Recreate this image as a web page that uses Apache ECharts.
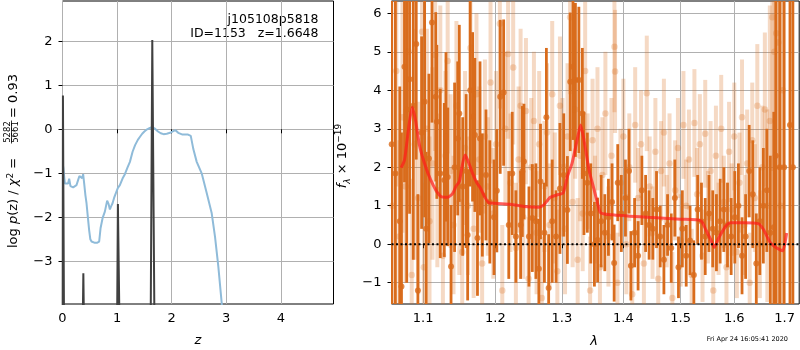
<!DOCTYPE html>
<html>
<head>
<meta charset="utf-8">
<script src="https://cdn.jsdelivr.net/npm/echarts@6/dist/echarts.min.js"></script>
<style>
  html, body { margin: 0; padding: 0; background: #fff; }
  #chart { width: 800px; height: 350px; }
</style>
</head>
<body>
<div id="chart"></div>
<script>
// ---- left panel: log p(z) ----
const zTicks = [0, 1, 2, 3, 4]
const logpTicks = [-3, -2, -1, 0, 1, 2]
const zCurve = [
  [0.012, -0.84], [0.024, -0.84], [0.043, -1.23], [0.07, -1.25], [0.103, -1.23], [0.122, -1.12],
  [0.134, -1.11], [0.146, -1.29], [0.17, -1.31], [0.195, -1.32], [0.226, -1.29], [0.256, -1.27],
  [0.287, -1.15], [0.31, -1.06], [0.33, -1.04], [0.345, -1.1], [0.36, -1.11], [0.378, -1.02],
  [0.397, -1.23], [0.42, -1.5], [0.44, -1.68], [0.465, -2.0], [0.488, -2.29], [0.51, -2.5],
  [0.532, -2.55], [0.56, -2.59], [0.593, -2.58], [0.63, -2.58], [0.672, -2.55], [0.697, -2.25],
  [0.734, -2.02], [0.776, -1.87], [0.818, -1.62], [0.845, -1.7], [0.868, -1.82], [0.89, -1.75],
  [0.917, -1.68], [0.945, -1.56], [0.978, -1.45], [1.015, -1.33], [1.051, -1.27], [1.1, -1.12],
  [1.143, -1.02], [1.19, -0.87], [1.235, -0.74], [1.284, -0.51], [1.33, -0.36], [1.38, -0.24],
  [1.42, -0.17], [1.46, -0.1], [1.5, -0.05], [1.55, 0.0], [1.6, 0.03], [1.64, 0.045],
  [1.69, 0.02], [1.75, -0.05], [1.8, -0.09], [1.85, -0.11], [1.91, -0.1], [1.97, -0.08],
  [2.03, -0.04], [2.07, -0.02], [2.12, -0.08], [2.2, -0.12], [2.3, -0.12], [2.35, -0.15],
  [2.397, -0.45], [2.459, -0.74], [2.55, -1.0], [2.642, -1.45], [2.734, -1.91], [2.794, -2.44],
  [2.855, -3.12], [2.917, -3.95], [2.95, -4.4]
]
const zSpikes = [
  [[0.003, -4.5], [0.008, 0.77], [0.02, 0.76], [0.028, -4.5]],
  [[0.37, -4.5], [0.382, -3.27], [0.394, -4.5]],
  [[1.0, -4.5], [1.015, -1.70], [1.03, -1.72], [1.045, -4.5]],
  [[1.615, -4.5], [1.645, 2.03], [1.655, 2.03], [1.685, -4.5]]
]

// ---- right panel: spectrum, [lambda, flux, error] ----
const lamTicks = [1.1, 1.2, 1.3, 1.4, 1.5, 1.6, 1.7]
const fluxTicks = [-1, 0, 1, 2, 3, 4, 5, 6]
const darkPts = [
  [1.0592, 2.6, 9], [1.0639, 1.84, 8], [1.0695, 0.6, 3.5], [1.0717, -1.10, 4], [1.0756, 4.61, 3],
  [1.0785, 3.5, 4.5], [1.0822, 4.29, 3.5], [1.0870, 3.6, 4], [1.0909, 5.2, 3], [1.0931, -1.2, 2.5],
  [1.0980, 2.9, 2.5], [1.1020, 3.7, 3], [1.1041, 0.40, 2], [1.1077, 2.23, 2.2], [1.1118, 5.76, 2.6],
  [1.1169, 3.83, 2.2], [1.1183, 3.18, 2.0], [1.1229, 1.84, 2.2], [1.1284, 1.67, 2.0], [1.1307, 2.79, 2.2],
  [1.1331, 1.75, 1.8], [1.1376, -0.58, 1.6], [1.1425, 2.0, 2.2], [1.1468, 2.75, 2.0], [1.1490, 3.40, 2.3],
  [1.1537, 1.50, 1.8], [1.1585, 1.9, 2.0], [1.1606, 0.24, 1.7], [1.1642, 4.0, 2.5], [1.1675, 3.31, 2.2],
  [1.1707, 2.84, 2.0], [1.1744, 0.16, 1.5], [1.1780, 2.75, 2.0], [1.1813, 1.28, 1.6], [1.1865, 1.8, 1.7],
  [1.1920, 1.1, 1.6], [1.1980, 0.7, 1.5], [1.2021, 1.39, 1.6], [1.2070, 3.83, 2.0], [1.2120, 3.94, 1.9],
  [1.2195, 0.50, 1.4], [1.2246, 1.84, 1.6], [1.2300, 0.2, 1.2], [1.2370, 0.5, 1.4], [1.2396, 1.89, 1.7],
  [1.2420, 2.15, 1.5], [1.2495, 0.2, 1.3], [1.2546, 0.68, 1.4], [1.2600, 0.6, 1.5], [1.2645, -0.64, 1.3],
  [1.2670, 1.63, 1.5], [1.2730, 0.3, 1.3], [1.2760, 3.30, 1.8], [1.2795, -1.14, 1.4], [1.2850, 0.6, 1.6],
  [1.2910, 0.2, 1.2], [1.2970, 1.45, 1.7], [1.3030, 1.8, 1.6], [1.3087, 0.89, 1.4], [1.3132, 4.22, 1.8],
  [1.3176, 4.61, 1.9], [1.3214, 4.27, 2.0], [1.3269, 4.27, 1.9], [1.3325, 3.40, 1.7], [1.3351, 1.84, 1.6],
  [1.3405, 1.6, 1.3], [1.3461, 0.8, 1.3], [1.3520, 0.0, 1.1], [1.3572, 0.11, 1.1], [1.3630, 0.6, 1.2],
  [1.3690, 0.3, 1.0], [1.3750, 0.7, 1.0], [1.3810, 1.1, 1.0], [1.3845, -0.49, 1.0], [1.3905, 1.6, 1.0],
  [1.3965, 0.8, 1.0], [1.4035, 1.2, 1.0], [1.4095, 1.9, 1.1], [1.4127, -0.56, 0.9], [1.4190, 0.3, 0.9],
  [1.4250, -0.3, 0.9], [1.4315, 1.4, 0.9], [1.4380, 0.8, 1.0], [1.4440, 0.5, 0.9], [1.4505, 0.4, 0.8],
  [1.4570, 0.9, 1.0], [1.4635, 0.2, 0.8], [1.4700, -0.4, 0.9], [1.4765, 0.5, 0.8], [1.4830, -0.1, 0.9],
  [1.4895, 1.2, 1.0], [1.4960, -0.6, 0.8], [1.5030, 0.4, 1.0], [1.5100, -0.3, 0.8], [1.5170, 0.1, 0.9],
  [1.5240, -0.8, 0.9], [1.5310, 0.9, 0.9], [1.5380, 0.6, 1.0], [1.5450, 0.2, 1.0], [1.5520, 0.8, 1.0],
  [1.5590, 0.4, 1.0], [1.5660, 0.3, 1.0], [1.5730, 0.6, 1.1], [1.5800, 0.9, 1.1], [1.5870, 0.5, 1.1],
  [1.5940, 0.2, 1.0], [1.6010, 0.7, 1.2], [1.6080, 1.0, 1.1], [1.6150, -0.3, 1.0], [1.6220, 0.2, 1.1],
  [1.6290, 1.9, 1.2], [1.6360, 1.3, 1.4], [1.6430, -0.5, 1.3], [1.6500, 0.6, 1.4], [1.6570, 1.0, 1.5],
  [1.6640, 1.4, 1.6], [1.6710, 0.3, 2.0], [1.6780, 0.44, 3], [1.6820, 2.3, 5], [1.6900, 2.0, 9],
  [1.6990, 2.0, 9], [1.7110, 3.1, 9], [1.7170, 2.0, 9]
]
const lightPts = [
  [1.0600, 1.0, 3.0], [1.0650, 4.5, 3.0], [1.0690, 0.2, 2.5], [1.0730, 3.3, 3.0], [1.0770, 1.5, 2.5],
  [1.0810, 5.0, 3.0], [1.0850, -0.8, 2.5], [1.0890, 2.6, 3.0], [1.0935, 1.2, 2.5], [1.0986, 5.52, 2.8],
  [1.1010, -0.6, 2.2], [1.1050, 3.0, 2.6], [1.1085, 0.6, 2.2], [1.1125, 2.1, 2.5], [1.1160, 4.92, 2.5],
  [1.1190, 1.4, 2.0], [1.1230, 4.0, 2.2], [1.1265, -0.3, 2.0], [1.1300, 2.3, 2.2], [1.1330, 4.76, 2.4],
  [1.1370, 1.9, 2.0], [1.1410, 0.5, 1.8], [1.1450, 3.6, 2.2], [1.1490, 1.1, 1.9], [1.1530, -0.2, 1.8],
  [1.1570, 2.5, 2.0], [1.1610, 1.0, 1.8], [1.1645, 5.1, 2.4], [1.1690, 0.4, 1.8], [1.1730, 3.9, 2.1],
  [1.1770, 2.2, 1.9], [1.1810, -0.5, 1.7], [1.1850, 2.8, 2.0], [1.1890, 1.5, 1.8], [1.1930, 4.2, 2.1],
  [1.1970, 0.8, 1.7], [1.2010, 2.6, 1.9], [1.2065, 5.73, 2.2], [1.2100, -1.2, 1.7], [1.2145, 3.0, 2.0],
  [1.2185, 4.94, 2.2], [1.2220, 1.6, 1.8], [1.2260, 4.59, 2.0], [1.2300, -0.1, 1.7], [1.2340, 2.2, 1.9],
  [1.2370, 3.6, 2.0], [1.2410, 0.7, 1.6], [1.2450, 3.46, 1.9], [1.2490, -0.9, 1.6], [1.2530, 2.0, 1.8],
  [1.2570, 3.2, 1.8], [1.2610, 0.3, 1.6], [1.2650, 2.6, 1.9], [1.2690, -1.4, 1.6], [1.2730, 1.5, 1.7],
  [1.2770, 2.9, 1.8], [1.2810, 0.5, 1.6], [1.2850, 3.9, 1.9], [1.2890, 1.2, 1.7], [1.2930, -0.7, 1.6],
  [1.2970, 3.6, 1.8], [1.3010, 2.0, 1.8], [1.3050, 0.4, 1.7], [1.3090, 2.8, 1.9], [1.3130, 5.9, 2.0],
  [1.3170, 1.1, 1.7], [1.3210, 3.5, 1.8], [1.3250, -0.4, 1.6], [1.3290, 2.3, 1.7], [1.3330, 0.8, 1.5],
  [1.3370, 4.5, 1.8], [1.3410, 1.9, 1.5], [1.3450, -1.2, 1.4], [1.3490, 2.7, 1.6], [1.3530, 0.9, 1.4],
  [1.3570, 3.0, 1.6], [1.3610, -0.6, 1.4], [1.3650, 1.8, 1.5], [1.3700, 3.4, 1.6], [1.3750, 0.2, 1.3],
  [1.3800, 2.3, 1.5], [1.3850, 5.13, 1.7], [1.3860, 4.49, 1.6], [1.3900, -1.0, 1.3], [1.3950, 1.6, 1.4],
  [1.4000, 2.8, 1.5], [1.4050, 0.0, 1.3], [1.4100, 2.0, 1.4], [1.4150, -1.3, 1.3], [1.4200, 3.1, 1.5],
  [1.4250, 1.2, 1.3], [1.4300, 2.6, 1.4], [1.4350, -0.5, 1.3], [1.4400, 3.92, 1.5], [1.4450, 1.5, 1.3],
  [1.4500, 0.3, 1.2], [1.4550, 2.4, 1.4], [1.4600, -0.9, 1.2], [1.4650, 1.9, 1.3], [1.4700, 2.9, 1.4],
  [1.4750, 0.6, 1.2], [1.4800, 2.1, 1.3], [1.4850, -1.4, 1.2], [1.4900, 1.4, 1.3], [1.4950, 2.5, 1.3],
  [1.5000, 0.1, 1.2], [1.5050, 3.1, 1.4], [1.5100, 1.0, 1.2], [1.5150, 2.2, 1.3], [1.5200, -0.8, 1.2],
  [1.5250, 3.15, 1.4], [1.5300, 1.3, 1.2], [1.5350, 2.6, 1.3], [1.5400, -0.3, 1.2], [1.5450, 2.87, 1.4],
  [1.5500, 0.7, 1.2], [1.5550, 1.9, 1.3], [1.5600, -1.2, 1.2], [1.5650, 2.3, 1.3], [1.5700, 0.4, 1.2],
  [1.5750, 3.0, 1.4], [1.5800, 1.1, 1.2], [1.5850, -0.6, 1.2], [1.5900, 2.4, 1.3], [1.5950, 0.9, 1.2],
  [1.6000, 2.8, 1.4], [1.6050, -0.2, 1.2], [1.6100, 1.6, 1.3], [1.6150, 3.3, 1.5], [1.6200, 0.5, 1.3],
  [1.6250, 2.1, 1.4], [1.6300, -1.0, 1.3], [1.6350, 2.7, 1.5], [1.6400, 1.2, 1.4], [1.6450, 3.6, 1.6],
  [1.6500, 0.0, 1.4], [1.6550, 2.0, 1.6], [1.6600, 3.5, 2.0], [1.6650, 1.0, 2.5], [1.6700, 3.2, 3.0],
  [1.6750, 5.9, 4], [1.6790, 5.0, 6], [1.6830, 5.48, 7], [1.6870, 5.24, 8], [1.6920, 1.0, 8], [1.6960, 4.0, 8]
]
const modelLine = [
  [1.0713, 1.99], [1.0756, 2.19], [1.0812, 3.05], [1.0856, 3.56], [1.0899, 3.23], [1.0955, 2.54],
  [1.1032, 2.02], [1.1101, 1.67], [1.1169, 1.41], [1.1238, 1.24], [1.1331, 1.22], [1.1399, 1.32],
  [1.1445, 1.51], [1.1490, 1.63], [1.1528, 2.02], [1.1569, 2.32], [1.1606, 2.19], [1.1675, 1.84],
  [1.1734, 1.60], [1.1789, 1.45], [1.1844, 1.24], [1.1904, 1.08], [1.2021, 1.06], [1.2220, 1.04],
  [1.2420, 0.98], [1.2645, 0.96], [1.2720, 1.02], [1.2820, 1.22], [1.2921, 1.28], [1.3021, 1.34],
  [1.3087, 1.76], [1.3160, 2.10], [1.3242, 2.71], [1.3297, 3.10], [1.3351, 2.71], [1.3433, 1.93],
  [1.3516, 1.41], [1.3572, 1.06], [1.3626, 0.81], [1.3845, 0.76], [1.4419, 0.70], [1.5000, 0.65],
  [1.5370, 0.61], [1.5463, 0.37], [1.5556, 0.11], [1.5617, -0.08], [1.5709, 0.18], [1.5833, 0.46],
  [1.5926, 0.56], [1.6183, 0.56], [1.6479, 0.53], [1.6578, 0.37], [1.6710, 0.04], [1.6842, -0.10],
  [1.6961, -0.17], [1.7041, 0.29]
]

const LAM_MIN = 1.0589, LAM_MAX = 1.7301
const FONT = 'DejaVu Sans'
const minus = (v) => (v < 0 ? '\u2212' + Math.abs(v) : String(v))

function axis(gridIndex, min, max, ticks, fmt, margin) {
  return {
    type: 'value', gridIndex, min, max,
    axisLine: { show: false },
    axisTick: { show: true, length: 4, customValues: ticks, lineStyle: { color: '#000', width: 1 } },
    axisLabel: { customValues: ticks, formatter: fmt, color: '#000', fontSize: 13, fontFamily: FONT, margin },
    splitLine: { show: true, lineStyle: { color: '#b0b0b0', width: 1 } }
  }
}

// vertical error bars, drawn through the grid's own coords
function errSeries(pts, color, width) {
  return {
    type: 'custom', xAxisIndex: 1, yAxisIndex: 1, clip: true, silent: true,
    data: pts.map(p => [Math.log(p[0]), p[1] - p[2], p[1] + p[2]]),
    encode: { x: 0, y: [1, 2] },
    renderItem: (params, api) => {
      const a = api.coord([api.value(0), api.value(1)])
      const b = api.coord([api.value(0), api.value(2)])
      return { type: 'line', shape: { x1: a[0], y1: a[1], x2: b[0], y2: b[1] }, style: { stroke: color, lineWidth: width } }
    }
  }
}

function dotSeries(pts, color, size) {
  return {
    type: 'scatter', xAxisIndex: 1, yAxisIndex: 1, silent: true, symbolSize: size,
    itemStyle: { color },
    data: pts.map(p => [Math.log(p[0]), p[1]])
  }
}

const DARK = '#d96c1c'
const LIGHT_BAR = 'rgba(217,108,28,0.26)'
const LIGHT_DOT = 'rgba(217,108,28,0.32)'

const chart = echarts.init(document.getElementById('chart'))
chart.setOption({
  animation: false,
  textStyle: { fontFamily: FONT },
  grid: [
    { left: 62.5, top: 1, width: 271, height: 303, show: true, borderColor: '#000', borderWidth: 1 },
    { left: 391.5, top: 1, width: 407.7, height: 303, show: true, borderColor: '#000', borderWidth: 1 }
  ],
  xAxis: [
    axis(0, 0, 4.965, zTicks, v => String(v), 8),
    axis(1, Math.log(LAM_MIN), Math.log(LAM_MAX), lamTicks.map(Math.log), v => Math.exp(v).toFixed(1), 8)
  ],
  yAxis: [
    axis(0, -3.97, 2.916, logpTicks, minus, 10),
    axis(1, -1.553, 6.32, fluxTicks, minus, 10)
  ],
  series: [
    {
      type: 'line', xAxisIndex: 0, yAxisIndex: 0, data: zCurve, showSymbol: false, silent: true,
      lineStyle: { color: '#8fbbd9', width: 2 }
    },
    ...zSpikes.map(s => ({
      type: 'line', xAxisIndex: 0, yAxisIndex: 0, data: s, showSymbol: false, silent: true,
      lineStyle: { color: '#404040', width: 2 }
    })),
    errSeries(lightPts, LIGHT_BAR, 4),
    dotSeries(lightPts, LIGHT_DOT, 6.5),
    errSeries(darkPts, DARK, 2.8),
    dotSeries(darkPts, DARK, 6),
    {
      type: 'line', xAxisIndex: 1, yAxisIndex: 1, silent: true, showSymbol: false, smooth: 0.2,
      data: modelLine.map(p => [Math.log(p[0]), p[1]]),
      lineStyle: { color: '#ff1a1a', width: 3, opacity: 0.7 }
    },
    {
      type: 'line', xAxisIndex: 1, yAxisIndex: 1, silent: true, showSymbol: false,
      data: [[Math.log(LAM_MIN), 0], [Math.log(LAM_MAX), 0]],
      lineStyle: { color: '#000', width: 2, type: [2, 2.5] }
    }
  ],
  graphic: [
    { type: 'text', x: 318.5, y: 20, style: { text: 'j105108p5818', font: '12.5px "DejaVu Sans"', fill: '#000', align: 'right', verticalAlign: 'middle' } },
    { type: 'text', x: 318.5, y: 34, style: { text: 'ID=1153   z=1.6648', font: '12.5px "DejaVu Sans"', fill: '#000', align: 'right', verticalAlign: 'middle' } },
    {
      type: 'group', x: 14, y: 248, rotation: Math.PI / 2,
      children: [
        {
          type: 'text', x: 0, y: 0,
          style: {
            text: '{n|log }{i|p}{n|(z) / }{i|\u03c7}{s|2}{n| =}',
            align: 'left', verticalAlign: 'middle', fill: '#000',
            rich: {
              n: { fontSize: 13, fontFamily: FONT, lineHeight: 16 },
              i: { fontSize: 13, fontFamily: FONT, fontStyle: 'italic', lineHeight: 16 },
              s: { fontSize: 9, fontFamily: FONT, lineHeight: 9, verticalAlign: 'top' }
            }
          }
        },
        { type: 'text', x: 116, y: -2, style: { text: '5282', font: '8.5px "DejaVu Sans"', fill: '#000', align: 'center', verticalAlign: 'bottom' } },
        { type: 'line', shape: { x1: 104.5, y1: -2.5, x2: 127.5, y2: -2.5 }, style: { stroke: '#000', lineWidth: 0.8 } },
        { type: 'text', x: 116, y: -3, style: { text: '5661', font: '8.5px "DejaVu Sans"', fill: '#000', align: 'center', verticalAlign: 'top' } },
        { type: 'text', x: 130, y: 0, style: { text: '= 0.93', font: '13px "DejaVu Sans"', fill: '#000', align: 'left', verticalAlign: 'middle' } }
      ]
    },
    {
      type: 'text', x: 343, y: 156, rotation: Math.PI / 2,
      style: {
        text: '{i|f}{b|\u03bb}{n| \u00d7 10}{t|\u221219}',
        align: 'center', verticalAlign: 'middle', fill: '#000',
        rich: {
          i: { fontSize: 13, fontFamily: FONT, fontStyle: 'italic', lineHeight: 18 },
          b: { fontSize: 9, fontFamily: FONT, fontStyle: 'italic', lineHeight: 12, verticalAlign: 'bottom' },
          n: { fontSize: 13, fontFamily: FONT, lineHeight: 18 },
          t: { fontSize: 9, fontFamily: FONT, lineHeight: 9, verticalAlign: 'top' }
        }
      }
    },
    { type: 'text', x: 198, y: 341, style: { text: 'z', font: 'italic 13px "DejaVu Sans"', fill: '#000', align: 'center', verticalAlign: 'middle' } },
    { type: 'text', x: 594, y: 342, style: { text: '\u03bb', font: 'italic 13px "DejaVu Sans"', fill: '#000', align: 'center', verticalAlign: 'middle' } },
    { type: 'text', x: 788, y: 339, style: { text: 'Fri Apr 24 16:05:41 2020', font: '6.5px "DejaVu Sans"', fill: '#000', align: 'right', verticalAlign: 'middle' } }
  ]
})
</script>
</body>
</html>
